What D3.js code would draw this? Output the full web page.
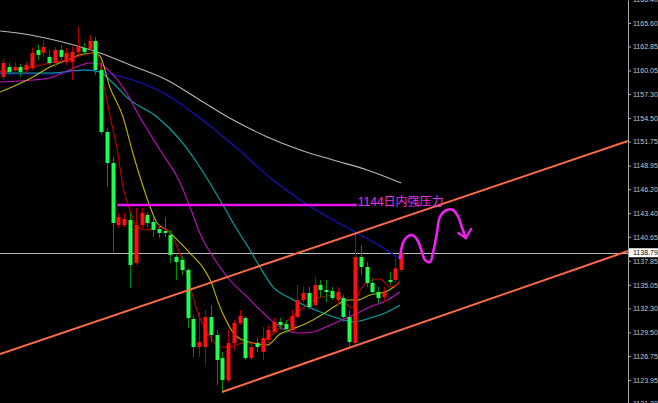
<!DOCTYPE html>
<html><head><meta charset="utf-8">
<script src="https://cdn.jsdelivr.net/npm/d3@7"></script>
<style>html,body{margin:0;padding:0;background:#000;overflow:hidden}svg{display:block}</style>
</head><body>
<svg id="c" width="658" height="403"></svg>
<script>
// ---- candle data (OHLC) ----
const opens = [1159.30,1160.46,1160.12,1160.46,1160.12,1160.35,1162.45,1162.10,1161.64,1160.93,1162.45,1161.05,1161.05,1162.22,1162.69,1162.57,1163.50,1160.12,1152.88,1149.26,1142.03,1142.03,1142.61,1137.60,1142.03,1143.20,1142.38,1141.56,1141.33,1140.86,1138.30,1137.95,1136.78,1131.06,1127.79,1127.79,1131.29,1129.19,1126.50,1123.94,1128.26,1130.59,1131.18,1126.50,1128.26,1127.21,1128.61,1129.54,1130.71,1130.47,1129.78,1131.29,1133.28,1134.09,1132.69,1135.03,1134.44,1134.33,1133.28,1133.51,1131.29,1128.26,1138.30,1137.13,1135.26,1134.21,1133.63,1135.61,1135.61,1136.78];
const highs = [1161.28,1160.93,1161.05,1160.81,1161.05,1162.69,1163.04,1163.62,1162.45,1162.80,1163.04,1162.69,1162.80,1165.13,1163.27,1164.20,1163.97,1161.05,1153.34,1149.96,1143.43,1143.43,1143.43,1144.01,1144.01,1143.55,1142.96,1142.03,1142.96,1141.45,1138.53,1138.41,1137.02,1131.53,1131.88,1132.11,1132.69,1129.78,1127.21,1129.78,1130.94,1132.11,1131.41,1128.26,1128.84,1130.12,1130.36,1131.18,1131.18,1130.94,1132.11,1135.03,1134.79,1134.79,1135.96,1135.61,1135.61,1134.79,1134.79,1133.86,1132.11,1141.21,1139.69,1137.72,1135.84,1134.79,1134.79,1136.54,1138.18,1139.69];
const lows = [1158.95,1159.54,1159.77,1159.30,1159.77,1160.12,1161.28,1161.52,1160.70,1160.46,1161.28,1160.70,1158.95,1161.87,1161.87,1162.33,1159.54,1152.53,1146.46,1138.88,1141.68,1141.80,1134.67,1137.37,1141.68,1141.80,1140.63,1140.51,1140.63,1137.60,1135.61,1136.20,1130.01,1126.62,1126.62,1125.69,1128.38,1123.36,1122.54,1123.71,1127.44,1130.36,1126.27,1126.27,1127.21,1126.27,1128.26,1129.31,1129.78,1129.43,1129.43,1131.18,1132.93,1132.23,1132.46,1133.63,1133.04,1133.28,1132.69,1130.71,1127.79,1128.03,1136.20,1134.79,1133.86,1132.93,1133.04,1135.03,1135.26,1136.54];
const closes = [1160.93,1159.89,1160.46,1159.89,1160.70,1162.10,1161.87,1162.80,1160.93,1162.45,1161.64,1162.10,1162.22,1162.80,1162.22,1163.50,1160.12,1152.88,1149.26,1142.26,1142.96,1142.73,1137.37,1142.03,1143.43,1142.26,1141.45,1141.10,1141.10,1138.53,1137.72,1136.78,1131.18,1127.79,1128.38,1131.29,1129.19,1126.27,1123.94,1128.26,1130.59,1131.41,1126.50,1127.79,1127.79,1128.84,1129.78,1130.71,1130.36,1129.89,1131.41,1133.28,1134.09,1132.46,1135.03,1134.44,1134.21,1133.51,1134.21,1131.29,1128.38,1138.30,1137.13,1135.26,1134.21,1133.51,1134.21,1135.38,1136.96,1138.79];

// ---- moving averages: [bar index, price] ----
const maGray = [[-0.5,1164.66],[4.7,1164.20],[11.6,1163.15],[16.8,1162.10],[22.5,1160.58],[28.4,1158.95],[34.1,1156.62],[39.9,1154.28],[45.8,1152.30],[51.5,1150.78],[57.2,1149.61],[63.1,1148.45],[69,1146.93]];
const maBlue = [[-0.5,1159.65],[8.1,1159.65],[14.6,1160.12],[16.8,1159.88],[22.5,1158.95],[28.4,1157.20],[34.1,1154.51],[39.9,1151.36],[46.8,1147.28],[51.5,1144.95],[57.2,1142.61],[61,1141.21],[65.9,1139.34],[68.8,1138.06]];
const maCyan = [[-0.5,1159.76],[8.1,1159.76],[13.9,1160.12],[16.8,1159.88],[18.5,1158.95],[22,1156.62],[26.7,1154.63],[30.7,1151.95],[34.1,1148.80],[37.6,1144.95],[40.6,1141.45],[42.8,1139.11],[44.5,1137.13],[46.8,1134.79],[49.7,1133.51],[53.7,1132.23],[57.9,1131.18],[60.7,1130.71],[63.6,1131.18],[66.6,1131.88],[68.8,1132.69]];
const maMagenta = [[-0.5,1158.71],[5.2,1158.95],[8.1,1159.18],[11.1,1160.00],[15.1,1160.93],[16.8,1160.81],[18.2,1160.12],[21.1,1157.78],[23.7,1154.63],[27.2,1150.78],[30.7,1146.93],[32.4,1144.13],[34.1,1141.10],[36.4,1138.29],[39.3,1135.61],[42.3,1133.63],[45.1,1131.76],[48,1130.12],[51,1129.43],[53.7,1129.54],[56.7,1130.36],[60.7,1131.53],[63.6,1132.46],[66.6,1133.28],[68.8,1134.21]];
const maYellow = [[-0.5,1157.55],[5.2,1159.30],[8.1,1160.46],[11.1,1161.28],[13.9,1161.98],[15.9,1162.10],[16.8,1161.75],[18.5,1158.13],[20.8,1154.63],[22.5,1150.43],[24.3,1146.46],[25.5,1144.13],[26.7,1142.26],[28.4,1141.45],[30.2,1140.28],[32.4,1138.76],[34.7,1137.01],[35.9,1135.61],[37.6,1132.46],[40.6,1128.96],[43.3,1128.26],[45.8,1128.03],[48,1129.31],[49.7,1129.78],[52.7,1130.59],[54.9,1131.41],[57.9,1132.69],[59.6,1133.28],[61.4,1133.28],[63.6,1133.86],[66.6,1134.33],[68.8,1135.38]];
const maRed = [[-0.5,1159.90],[5.2,1160.45],[8.1,1160.93],[11.1,1161.28],[13.9,1161.87],[16.3,1162.10],[17.3,1158.95],[18.5,1154.86],[19.8,1150.78],[20.8,1146.46],[22,1143.78],[23.2,1141.80],[25,1141.45],[26.7,1141.80],[28.4,1141.45],[30.2,1139.46],[31.9,1136.19],[33.6,1132.11],[35.9,1128.96],[37.6,1127.79],[39.3,1127.79],[41.6,1128.26],[44.5,1128.26],[46.3,1129.07],[48.5,1130.36],[52,1132.34],[54.4,1133.51],[57.9,1133.86],[59.6,1132.69],[60.5,1132.34],[61.9,1134.44],[63.6,1135.49],[65.3,1135.73],[67.1,1134.79],[68.8,1135.38]];

// ---- price axis ----
const priceTicks = [1168.40,1165.60,1162.85,1160.05,1157.30,1154.50,1151.75,1148.95,1146.20,1143.40,1140.65,1137.85,1135.05,1132.30,1129.50,1126.75,1123.95,1121.20];
const lastPrice = 1138.79;

// ---- annotations ----
const channelUpper = [[-0.52,1126.97],[108.3,1151.83]];
const channelLower = [[37.95,1122.54],[108.3,1138.99]];
const resistancePrice = 1144.35;
const resistanceSpan = [19.8, 61.3];
const resistanceLabel = "1144日内强压力";
const forecastPath = [[68.8,1138.18],[69.3,1139.93],[70.0,1140.63],[70.9,1140.86],[71.8,1140.28],[72.6,1138.88],[73.1,1137.95],[74.0,1137.71],[74.5,1138.76],[75.2,1141.10],[75.7,1142.96],[76.9,1143.78],[78.0,1143.78],[78.9,1142.96],[79.5,1141.80],[80.2,1140.51]];
const forecastArrow = [[78.9,1141.10],[80.2,1140.51],[81.1,1141.56]];

const W = 658, H = 403, PW = 628;
const svg = d3.select("#c");
svg.append("rect").attr("width",W).attr("height",H).attr("fill","#000");
const x = d3.scaleLinear().domain([-0.52,108.3]).range([0,PW]);
const y = d3.scaleLinear().domain([1121.26,1168.28]).range([H,0]);

svg.append("clipPath").attr("id","clip").append("rect").attr("width",PW).attr("height",H);
const plot = svg.append("g").attr("clip-path","url(#clip)");

// current price line
plot.append("line").attr("x1",0).attr("x2",PW)
  .attr("y1",Math.round(y(lastPrice))+0.5).attr("y2",Math.round(y(lastPrice))+0.5)
  .attr("stroke","#bcbcbc").attr("stroke-width",1);

// moving averages
const line = d3.line().x(d=>x(d[0])).y(d=>y(d[1])).curve(d3.curveMonotoneX);
const mas = [[maGray,"#b8b8b8"],[maBlue,"#1414c8"],[maCyan,"#00a8a8"],[maMagenta,"#c010c0"],[maYellow,"#c0b400"],[maRed,"#c00000"]];
mas.forEach(([data,color])=>{
  plot.append("path").attr("d",line(data)).attr("fill","none").attr("stroke",color).attr("stroke-width",1.1);
});

// candles
const candles = d3.range(opens.length).map(i=>({i,o:opens[i],h:highs[i],l:lows[i],c:closes[i]}));
const cg = plot.append("g");
cg.selectAll("line").data(candles).join("line")
  .attr("x1",d=>Math.round(x(d.i))+0.5).attr("x2",d=>Math.round(x(d.i))+0.5)
  .attr("y1",d=>y(d.h)).attr("y2",d=>y(d.l))
  .attr("stroke",d=>d.c>=d.o?"#b00000":"#008a00").attr("stroke-width",1);
cg.selectAll("rect").data(candles).join("rect")
  .attr("x",d=>Math.round(x(d.i))-1.5).attr("width",4)
  .attr("y",d=>y(Math.max(d.o,d.c)))
  .attr("height",d=>Math.max(1,Math.abs(y(d.o)-y(d.c))))
  .attr("fill",d=>d.c>=d.o?"#ff1010":"#1cff50");

// channel lines
const straight = d3.line().x(d=>x(d[0])).y(d=>y(d[1]));
[channelUpper,channelLower].forEach(c=>{
  plot.append("path").attr("d",straight(c)).attr("stroke","#ff6a48").attr("stroke-width",2).attr("fill","none");
});

// resistance line + label
plot.append("line").attr("x1",x(resistanceSpan[0])).attr("x2",x(resistanceSpan[1]))
  .attr("y1",y(resistancePrice)).attr("y2",y(resistancePrice))
  .attr("stroke","#ee10ee").attr("stroke-width",2.5);
plot.append("text").attr("x",x(resistanceSpan[1])+1).attr("y",y(resistancePrice)+0.5)
  .attr("fill","#f030f0").attr("font-size","12px")
  .attr("font-family","'Liberation Sans','Noto Sans CJK SC',sans-serif")
  .text(resistanceLabel);

// forecast wave
const wave = d3.line().x(d=>x(d[0])).y(d=>y(d[1])).curve(d3.curveCatmullRom);
plot.append("path").attr("d",wave(forecastPath)).attr("fill","none")
  .attr("stroke","#f020f0").attr("stroke-width",2.6).attr("stroke-linecap","round").attr("stroke-linejoin","round");
plot.append("path").attr("d",straight(forecastArrow)).attr("fill","none")
  .attr("stroke","#f020f0").attr("stroke-width",2.4).attr("stroke-linecap","round").attr("stroke-linejoin","round");

// price axis
const axis = d3.axisRight(y).tickValues(priceTicks).tickFormat(d3.format(".2f")).tickSize(3).tickSizeOuter(0).tickPadding(2);
const ag = svg.append("g").attr("transform",`translate(${PW},0)`).call(axis);
ag.select(".domain").attr("stroke","#a8a8a8");
ag.selectAll(".tick line").attr("stroke","#a8a8a8");
ag.selectAll(".tick text").attr("fill","#c8c8c8").attr("font-size","7px").attr("font-family","'Liberation Sans',Arial,sans-serif");

// last price marker
const ly = y(lastPrice);
svg.append("rect").attr("x",PW+1).attr("y",ly-4.5).attr("width",W-PW-1).attr("height",9).attr("fill","#fff");
svg.append("text").attr("x",PW+5).attr("y",ly).attr("dy","0.35em").attr("fill","#000")
  .attr("font-size","7px").attr("font-family","'Liberation Sans',Arial,sans-serif").text(d3.format(".2f")(lastPrice));
</script>
</body></html>
